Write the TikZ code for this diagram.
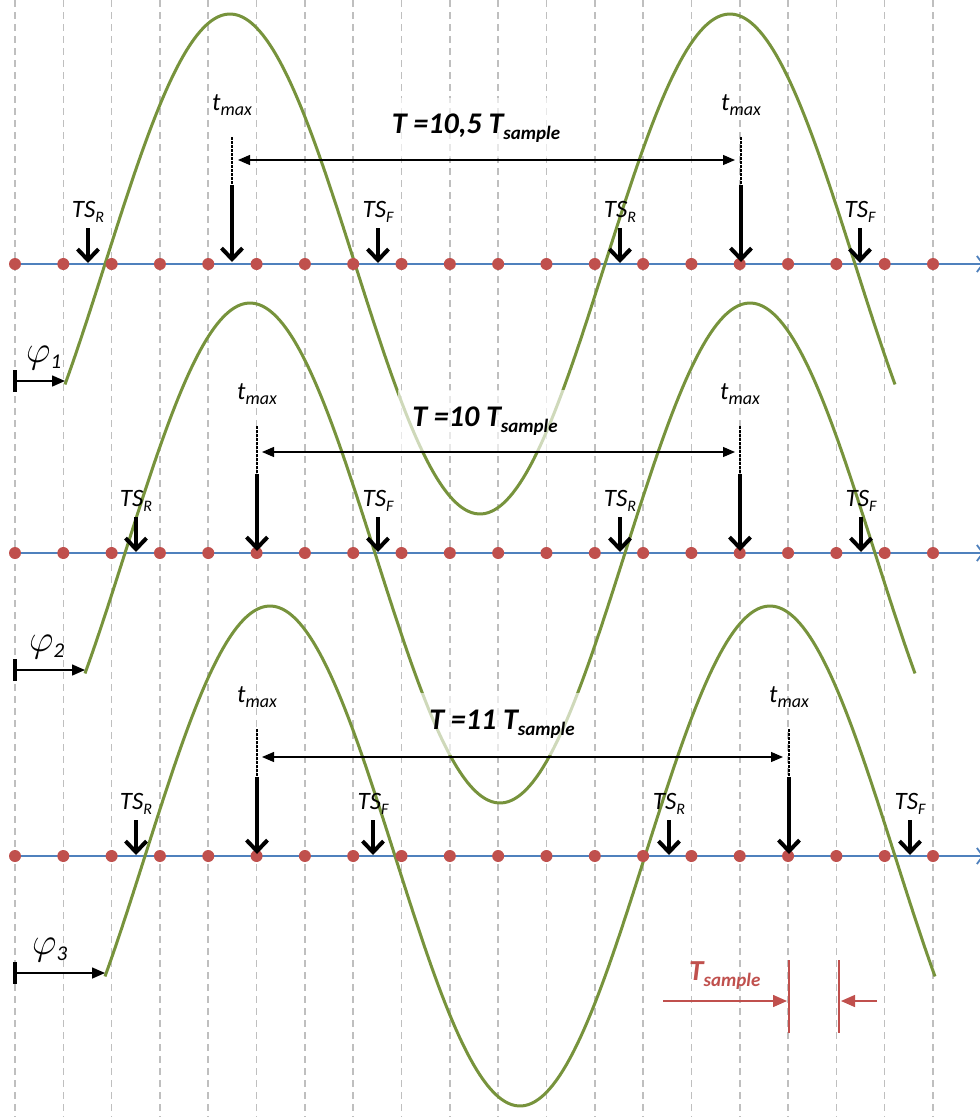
\RequirePackage{fix-cm}
\documentclass[tikz,border=0pt]{standalone}
\usepackage{fontspec}
\setmainfont{Carlito}
\usetikzlibrary{arrows.meta}
\definecolor{wgreen}{HTML}{77933C}
\definecolor{axblue}{HTML}{4F81BD}
\definecolor{dotred}{HTML}{C0504D}
\definecolor{gridgray}{HTML}{BFBFBF}
\newcommand\mysub[3]{\raisebox{-#2}{\fontsize{#1}{#1}\selectfont #3}}
\begin{document}
\begin{tikzpicture}[x=1pt,y=-1pt,
  gridline/.style={gridgray, line width=1.6pt, dash pattern=on 7pt off 5pt},
  axisline/.style={axblue, line width=1.8pt, -{Straight Barb[length=6pt,width=16pt]}},
  dot/.style={circle, fill=dotred, inner sep=0pt, minimum size=12pt},
  wave/.style={wgreen, line width=3pt},
  bigarrow/.style={line width=4pt, -{Straight Barb[length=11pt,width=21pt]}},
  tmaxdash/.style={line width=1.2pt, dash pattern=on 2.5pt off 1.5pt},
  dimarrow/.style={line width=1.2pt, {Triangle[length=12pt,width=10pt]}-{Triangle[length=12pt,width=10pt]}},
  phiarrow/.style={line width=1.5pt, -{Triangle[length=13pt,width=11pt]}},
  phibar/.style={line width=4pt},
  tslabel/.style={anchor=base, inner sep=0pt, font=\fontsize{25}{25}\selectfont\itshape},
  philabel/.style={anchor=base west, inner sep=0pt, font=\fontsize{38}{38}\selectfont},
  perlabel/.style={fill=white, fill opacity=0.65, text opacity=1, inner sep=0pt,
     font=\fontsize{30}{30}\selectfont\bfseries\itshape},
  redline/.style={dotred, line width=1.8pt},
  redarrow/.style={dotred, line width=1.5pt, -{Triangle[length=14pt,width=12pt]}}
]
\useasboundingbox (0,0) rectangle (980,1117);
\fill[white] (0,0) rectangle (980,1117);

% grid
\foreach \i in {0,...,19}{
  \coordinate (gt\i) at ({15+48.316*\i},0);
  \coordinate (gb\i) at ({15+48.316*\i},1117);
  \draw[gridline] (gt\i) -- (gb\i);
}

% axes
\foreach \k/\ay in {1/264,2/553,3/856}{
  \coordinate (axL\k) at (15,\ay);
  \coordinate (axR\k) at (984,\ay);
  \draw[axisline] (axL\k) -- (axR\k);
}

% waves
\draw[wave] plot[domain=65:895, samples=240] (\x,{264-250*sin(0.72*(\x-105))});
\draw[wave] plot[domain=85:915, samples=240] (\x,{553-250*sin(0.72*(\x-125))});
\draw[wave] plot[domain=105:935, samples=240] (\x,{856-250*sin(0.72*(\x-145))});

% dots
\foreach \k/\ay in {1/264,2/553,3/856}{
  \foreach \i in {0,...,19}{
    \node[dot] (p\k-\i) at ({15+48.316*\i},\ay) {};
  }
}

% period labels (semi-transparent boxes)
\node[perlabel, minimum width=186pt, minimum height=60pt] (per1) at (476,128) {T =10,5 T\mysub{19}{6pt}{sample}};
\node[perlabel, minimum width=174pt, minimum height=62pt] (per2) at (485,421) {T =10 T\mysub{19}{6pt}{sample}};
\node[perlabel, minimum width=166pt, minimum height=62pt] (per3) at (502,724) {T =11 T\mysub{19}{6pt}{sample}};

% period double arrows
\coordinate (d1a) at (238,160); \coordinate (d1b) at (735,160);
\coordinate (d2a) at (262,452); \coordinate (d2b) at (735,452);
\coordinate (d3a) at (262,757); \coordinate (d3b) at (783,757);
\draw[dimarrow] (d1a) -- (d1b);
\draw[dimarrow] (d2a) -- (d2b);
\draw[dimarrow] (d3a) -- (d3b);

% t_max markers
\foreach \n/\tx/\ay in {a/232/264, b/741/264, c/257/553, d/740/553, e/257/856, f/789/856}{
  \node[tslabel] (tm\n) at (\tx,{\ay-154}) {t\mysub{18}{5pt}{max}};
  \coordinate (tmd\n) at (\tx,{\ay-127});
  \coordinate (tmm\n) at (\tx,{\ay-79});
  \coordinate (tmt\n) at (\tx,{\ay-2});
  \draw[tmaxdash] (tmd\n) -- (tmm\n);
  \draw[bigarrow] (tmm\n) -- (tmt\n);
}

% TS markers
\foreach \n/\tx/\ay/\s in {a/88/264/R, b/378/264/F, c/620/264/R, d/860/264/F,
                           e/136/553/R, f/378/553/F, g/620/553/R, h/861/553/F,
                           i/136/856/R, j/373/856/F, k/669/856/R, l/910/856/F}{
  \node[tslabel] (ts\n) at (\tx,{\ay-47}) {TS\mysub{16}{5pt}{\s}};
  \coordinate (tss\n) at (\tx,{\ay-36});
  \coordinate (tse\n) at (\tx,{\ay-1});
  \draw[bigarrow] (tss\n) -- (tse\n);
}

% phase markers
\foreach \k/\ay/\xe/\lx in {1/264/65/26, 2/553/85/29, 3/856/105/32}{
  \coordinate (phb\k) at (15,{\ay+106});
  \coordinate (pht\k) at (15,{\ay+128});
  \coordinate (phs\k) at (15,{\ay+117});
  \coordinate (phe\k) at (\xe,{\ay+117});
  \draw[phibar] (phb\k) -- (pht\k);
  \draw[phiarrow] (phs\k) -- (phe\k);
  \node[philabel] (phl\k) at (\lx,{\ay+98}) {$\varphi$\mysub{21}{6pt}{\itshape \k}};
}

% T_sample annotation
\node[anchor=base west, inner sep=0pt, text=dotred, font=\fontsize{29}{29}\selectfont\bfseries\itshape] (tsam) at (689,980) {T\mysub{19}{6pt}{sample}};
\coordinate (v1t) at (789,960); \coordinate (v1b) at (789,1033);
\coordinate (v2t) at (839,960); \coordinate (v2b) at (839,1033);
\draw[redline] (v1t) -- (v1b);
\draw[redline] (v2t) -- (v2b);
\coordinate (ra1) at (663,1001); \coordinate (ra2) at (787,1001);
\coordinate (rb1) at (877,1001); \coordinate (rb2) at (841,1001);
\draw[redarrow] (ra1) -- (ra2);
\draw[redarrow] (rb1) -- (rb2);
\end{tikzpicture}
\end{document}
